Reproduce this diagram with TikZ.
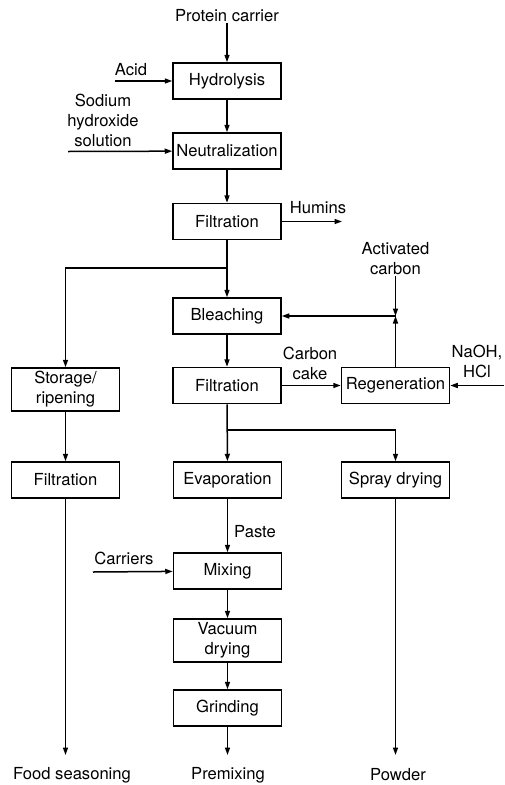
\documentclass[tikz,border=0pt]{standalone}
\usepackage{fontspec}
\setmainfont{TeX Gyre Heros}
\usetikzlibrary{arrows.meta}
\begin{document}
\begin{tikzpicture}[x=1pt,y=-1pt,
  font=\fontsize{16.6}{20}\selectfont,
  box/.style={draw, line width=1.5pt, minimum width=108pt, minimum height=36pt, inner sep=0pt, align=center},
  tall/.style={box, minimum height=43pt},
  lbl/.style={inner sep=1pt, align=center},
  arr/.style={line width=1.5pt, -{Triangle[length=7.5pt,width=5pt]}},
  ln/.style={line width=1.5pt}]
\useasboundingbox (0,0) rectangle (504,785);
% boxes
\node[box] (hyd) at (227,81) {Hydrolysis};
\node[box] (neu) at (227,151) {Neutralization};
\node[box] (fil1) at (227,221.5) {Filtration};
\node[box] (ble) at (227,316) {Bleaching};
\node[box] (fil2) at (227,385.5) {Filtration};
\node[box] (reg) at (395.5,385.5) {Regeneration};
\node[tall] (sto) at (65.5,389.5) {Storage/\\ripening};
\node[box] (fil3) at (65.5,480) {Filtration};
\node[box] (eva) at (227.5,480) {Evaporation};
\node[box] (spr) at (395.5,480) {Spray drying};
\node[box] (mix) at (227.5,571) {Mixing};
\node[tall] (vac) at (227.5,640.5) {Vacuum\\drying};
\node[box] (gri) at (227.5,708) {Grinding};
% labels
\node[lbl] (pc) at (227,16) {Protein carrier};
\node[lbl] (acid) at (131,70) {Acid};
\node[lbl] (naoh) at (103,120) {Sodium\\hydroxide\\solution};
\node[lbl] (hum) at (318,208) {Humins};
\node[lbl] (ac) at (395.5,259) {Activated\\carbon};
\node[lbl] (cc) at (310,363) {Carbon\\cake};
\node[lbl] (nh) at (477,361) {NaOH,\\HCl};
\node[lbl] (paste) at (255,532) {Paste};
\node[lbl] (car) at (124,558) {Carriers};
\node[lbl] (fs) at (72,775) {Food seasoning};
\node[lbl] (pm) at (228,775) {Premixing};
\node[lbl] (pw) at (398,775) {Powder};
% coordinates
\coordinate (acidS) at (115,81);
\coordinate (naohS) at (68,151.5);
\coordinate (humE) at (342,221.5);
\coordinate (b1) at (227,268);
\coordinate (j) at (395.5,316);
\coordinate (nhS) at (504,385.5);
\coordinate (b2) at (227,430);
\coordinate (carS) at (93,572);
\coordinate (fsA) at (65.5,755);
\coordinate (pmA) at (227.5,755);
\coordinate (pwA) at (395.5,755);
% connectors
\draw[arr] (pc) -- (hyd);
\draw[arr] (acidS) -- (hyd);
\draw[arr] (hyd) -- (neu);
\draw[arr] (naohS) -- (neu);
\draw[arr] (neu) -- (fil1);
\draw[arr] (fil1) -- (humE);
\draw[arr] (fil1) -- (ble);
\draw[arr] (b1) -| (sto);
\draw[arr] (ac) -- (j);
\draw[arr] (reg) -- (j);
\draw[arr] (j) -- (ble);
\draw[arr] (ble) -- (fil2);
\draw[arr] (fil2) -- (reg);
\draw[arr] (nhS) -- (reg);
\draw[arr] (fil2) -- (eva);
\draw[arr] (b2) -| (spr);
\draw[arr] (sto) -- (fil3);
\draw[arr] (fil3) -- (fsA);
\draw[arr] (eva) -- (mix);
\draw[arr] (carS) -- (mix);
\draw[arr] (mix) -- (vac);
\draw[arr] (vac) -- (gri);
\draw[arr] (gri) -- (pmA);
\draw[arr] (spr) -- (pwA);
\end{tikzpicture}
\end{document}
